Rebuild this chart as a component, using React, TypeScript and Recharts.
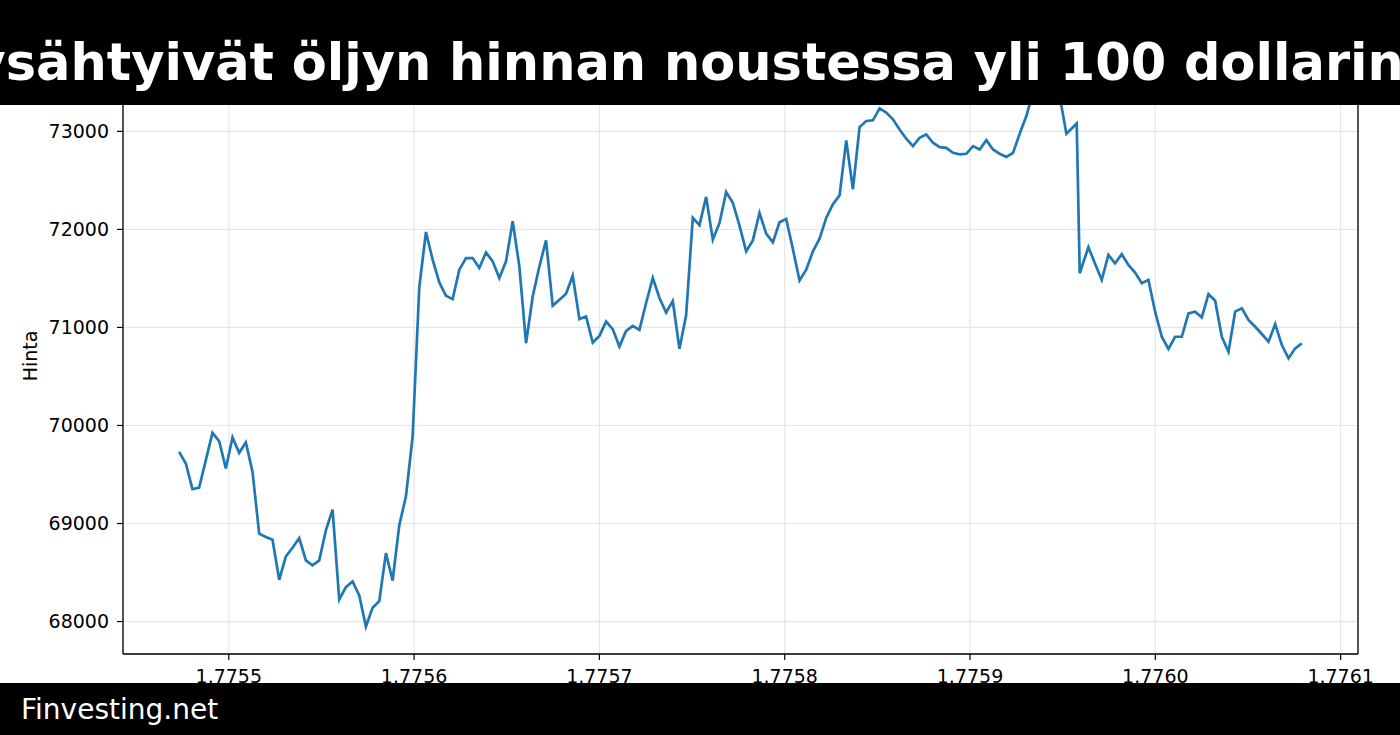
import React from 'react';
import { LineChart, Line, XAxis, YAxis, CartesianGrid, ReferenceLine } from 'recharts';

// Hourly samples (Unix seconds) starting here
const START_TIME = 1775473200;
const HOUR = 3600;

// Hourly prices, hour 0..133
const pricesSegment1 = [
  69731, 69612, 69350, 69367, 69646, 69925, 69840, 69561, 69878, 69721,
  69827, 69527, 68897, 68862, 68835, 68426, 68665, 68753, 68852, 68624,
  68573, 68624, 68930, 69142, 68225, 68351, 68409, 68266, 67949, 68140,
  68208, 68698, 68419, 68982, 69278, 69885, 71412, 71974, 71691, 71459,
  71323, 71289, 71589, 71708, 71708, 71606, 71766, 71674, 71504, 71674,
  72083, 71622, 70839, 71316, 71622, 71888, 71221, 71282, 71344, 71528,
  71085, 71112, 70846, 70914, 71060, 70983, 70805, 70965, 71016, 70975,
  71249, 71504, 71300, 71152, 71270, 70783, 71124, 72118, 72044, 72332,
  71896, 72066, 72380, 72271, 72039, 71776, 71888, 72168, 71957, 71868,
  72073, 72107, 71800, 71479, 71589, 71776, 71905, 72117, 72257, 72347,
  72908, 72410, 73044, 73106, 73113, 73235, 73191, 73123, 73020, 72925,
  72850, 72935, 72969, 72884, 72839, 72832, 72781, 72765, 72771, 72850,
  72816, 72911, 72816, 72771, 72740, 72781, 72976, 73156, 73400, 73480,
  73550, 73450, 73360, 72976,
];

// The sharp drop (irregular sample times, in hours from start)
const dropHours = [134.55, 135.0];
const dropPrices = [73080, 71553];

// Hourly prices after the drop
const segment2StartHour = 136.3;
const pricesSegment2 = [
  71819, 71650, 71485, 71740, 71655, 71747, 71638, 71559, 71451, 71485,
  71161, 70905, 70780, 70905, 70905, 71144, 71161, 71103, 71341, 71273,
  70905, 70752, 71161, 71195, 71076, 71007, 70933, 70854, 71035, 70820,
  70684, 70787, 70838,
];

const xTicks = [1775500000, 1775600000, 1775700000, 1775800000, 1775900000, 1776000000, 1776100000];
const yTicks = [68000, 69000, 70000, 71000, 72000, 73000];

const titleText = 'pysähtyivät öljyn hinnan noustessa yli 100 dollarin';
const footerText = 'Finvesting.net';
const yLabel = 'Hinta';

const data: { t: number; price: number }[] = [
  ...pricesSegment1.map((p, i) => ({ t: START_TIME + i * HOUR, price: p })),
  ...dropPrices.map((p, i) => ({ t: START_TIME + dropHours[i] * HOUR, price: p })),
  ...pricesSegment2.map((p, i) => ({ t: START_TIME + (segment2StartHour + i) * HOUR, price: p })),
];

const tMin = Math.min(...data.map((d) => d.t));
const tMax = Math.max(...data.map((d) => d.t));
const pMin = Math.min(...data.map((d) => d.price));
const pMax = Math.max(...data.map((d) => d.price));
const xDomain: [number, number] = [tMin - 0.05 * (tMax - tMin), tMax + 0.05 * (tMax - tMin)];
const yDomain: [number, number] = [pMin - 0.05 * (pMax - pMin), pMax + 0.05 * (pMax - pMin)];

const FONT = '"DejaVu Sans", sans-serif';

export default function App() {
  return (
    <div style={{ position: 'absolute', left: 0, top: 0, width: 1400, height: 735, background: '#fff' }}>
      <LineChart
        width={1400}
        height={735}
        data={data}
        margin={{ top: 50, right: 42, bottom: 51, left: 43 }}
      >
        <CartesianGrid stroke="#e6e6e6" strokeWidth={1.2} />
        <XAxis
          dataKey="t"
          type="number"
          domain={xDomain}
          ticks={xTicks}
          allowDataOverflow
          height={30}
          tickFormatter={(v: number) => (v / 1e9).toFixed(4)}
          tick={{ fill: '#000', fontSize: 19, fontFamily: FONT }}
          tickLine={{ stroke: '#000', strokeWidth: 1.2 }}
          axisLine={{ stroke: '#000', strokeWidth: 1.3 }}
          tickSize={6}
          tickMargin={10}
          interval={0}
        />
        <YAxis
          type="number"
          domain={yDomain}
          ticks={yTicks}
          allowDataOverflow
          width={80}
          tick={{ fill: '#000', fontSize: 19, fontFamily: FONT }}
          tickLine={{ stroke: '#000', strokeWidth: 1.2 }}
          axisLine={{ stroke: '#000', strokeWidth: 1.3 }}
          tickSize={6}
          tickMargin={8}
          interval={0}
        />
        <ReferenceLine x={xDomain[1]} stroke="#000" strokeWidth={1.3} />
        <Line
          type="linear"
          dataKey="price"
          stroke="#1f77b4"
          strokeWidth={2.7}
          dot={false}
          isAnimationActive={false}
        />
      </LineChart>
      <svg
        width={1400}
        height={735}
        style={{ position: 'absolute', left: 0, top: 0, pointerEvents: 'none' }}
      >
        <rect x={0} y={0} width={1400} height={105} fill="#000" />
        <text x={-64} y={80} fill="#fff" fontSize={51} fontWeight="bold" fontFamily={FONT}>
          {titleText}
        </text>
        <rect x={0} y={683} width={1400} height={52} fill="#000" />
        <text x={21} y={719} fill="#fff" fontSize={28} fontFamily={FONT}>
          {footerText}
        </text>
        <text
          transform="translate(37,356) rotate(-90)"
          textAnchor="middle"
          fill="#000"
          fontSize={19}
          fontFamily={FONT}
        >
          {yLabel}
        </text>
      </svg>
    </div>
  );
}
